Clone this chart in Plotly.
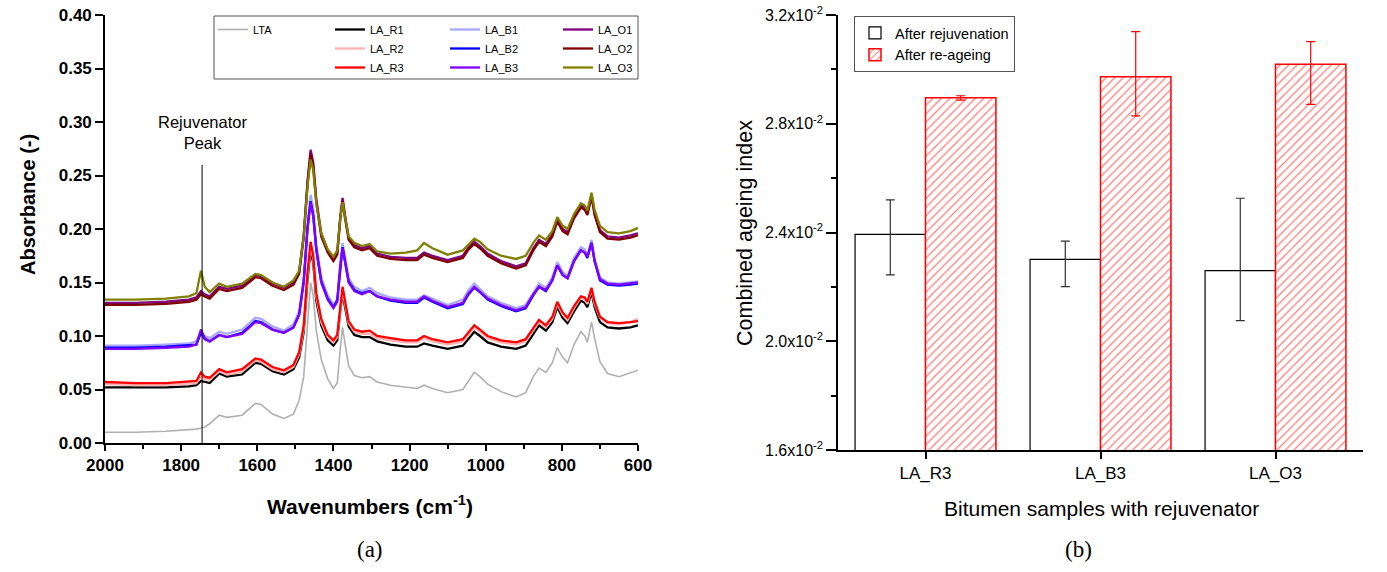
import plotly.graph_objects as go

# ---------------- (a) FTIR spectra ----------------
wavenumber = [2000, 1920, 1840, 1780, 1760, 1748, 1738, 1725, 1700, 1680, 1640, 1605, 1590, 1560, 1530,
              1505, 1490, 1478, 1468, 1460, 1453, 1445, 1432, 1415, 1400, 1390, 1382, 1376, 1370, 1360,
              1345, 1325, 1305, 1285, 1250, 1210, 1180, 1162, 1140, 1100, 1060, 1045, 1030, 1015, 995,
              960, 920, 895, 875, 860, 842, 825, 812, 798, 785, 768, 750, 740, 733, 722, 714, 700,
              680, 650, 620, 600]

LTA = [0.010, 0.010, 0.011, 0.012, 0.013, 0.014, 0.015, 0.018, 0.026, 0.024, 0.026, 0.037, 0.036, 0.027, 0.023,
       0.027, 0.040, 0.062, 0.112, 0.150, 0.138, 0.105, 0.078, 0.060, 0.051, 0.056, 0.088, 0.108, 0.094, 0.072,
       0.063, 0.061, 0.062, 0.057, 0.054, 0.052, 0.051, 0.054, 0.051, 0.047, 0.050, 0.058, 0.066, 0.062, 0.055,
       0.048, 0.043, 0.047, 0.062, 0.070, 0.066, 0.075, 0.089, 0.080, 0.075, 0.092, 0.104, 0.100, 0.094, 0.113, 0.098, 0.076,
       0.065, 0.062, 0.066, 0.068]

LA_R1 = [0.052, 0.052, 0.052, 0.053, 0.054, 0.058, 0.057, 0.056, 0.065, 0.062, 0.064, 0.075, 0.074, 0.067, 0.064,
         0.069, 0.080, 0.104, 0.153, 0.181, 0.168, 0.133, 0.110, 0.096, 0.091, 0.096, 0.124, 0.140, 0.128, 0.109,
         0.101, 0.099, 0.099, 0.095, 0.092, 0.090, 0.090, 0.093, 0.091, 0.088, 0.091, 0.098, 0.104, 0.100, 0.094,
         0.090, 0.088, 0.091, 0.102, 0.110, 0.105, 0.113, 0.127, 0.117, 0.112, 0.123, 0.133, 0.131, 0.127, 0.141, 0.127, 0.113,
         0.108, 0.107, 0.108, 0.110]

LA_R2 = [0.055, 0.054, 0.054, 0.055, 0.056, 0.062, 0.060, 0.059, 0.067, 0.064, 0.067, 0.077, 0.076, 0.069, 0.066,
         0.071, 0.083, 0.107, 0.157, 0.185, 0.172, 0.137, 0.113, 0.099, 0.094, 0.099, 0.127, 0.143, 0.131, 0.112,
         0.104, 0.102, 0.102, 0.098, 0.096, 0.094, 0.094, 0.098, 0.095, 0.092, 0.095, 0.102, 0.108, 0.104, 0.098,
         0.094, 0.092, 0.095, 0.106, 0.113, 0.108, 0.116, 0.130, 0.120, 0.115, 0.126, 0.136, 0.134, 0.130, 0.144, 0.130, 0.117,
         0.112, 0.111, 0.113, 0.116]

LA_R3 = [0.057, 0.056, 0.056, 0.057, 0.058, 0.066, 0.062, 0.061, 0.069, 0.066, 0.069, 0.079, 0.078, 0.071, 0.068,
         0.073, 0.085, 0.110, 0.160, 0.188, 0.175, 0.140, 0.116, 0.101, 0.096, 0.101, 0.130, 0.146, 0.134, 0.114,
         0.106, 0.104, 0.105, 0.100, 0.098, 0.096, 0.096, 0.100, 0.097, 0.094, 0.097, 0.104, 0.110, 0.106, 0.100,
         0.096, 0.094, 0.097, 0.108, 0.115, 0.110, 0.118, 0.132, 0.122, 0.117, 0.128, 0.137, 0.136, 0.132, 0.145, 0.132, 0.118,
         0.113, 0.112, 0.113, 0.114]

LA_B1 = [0.091, 0.091, 0.092, 0.093, 0.095, 0.104, 0.100, 0.098, 0.104, 0.102, 0.106, 0.117, 0.116, 0.109, 0.105,
         0.111, 0.123, 0.155, 0.206, 0.232, 0.219, 0.186, 0.155, 0.138, 0.129, 0.135, 0.170, 0.187, 0.175, 0.154,
         0.146, 0.142, 0.145, 0.140, 0.136, 0.134, 0.134, 0.138, 0.135, 0.129, 0.134, 0.143, 0.149, 0.144, 0.137,
         0.131, 0.126, 0.129, 0.141, 0.149, 0.145, 0.155, 0.169, 0.160, 0.156, 0.173, 0.183, 0.181, 0.176, 0.190, 0.172, 0.155,
         0.150, 0.149, 0.150, 0.151]

LA_B2 = [0.089, 0.089, 0.090, 0.091, 0.092, 0.103, 0.097, 0.095, 0.101, 0.099, 0.103, 0.114, 0.113, 0.106, 0.103,
         0.108, 0.120, 0.151, 0.201, 0.226, 0.213, 0.181, 0.151, 0.135, 0.127, 0.133, 0.166, 0.183, 0.171, 0.151,
         0.143, 0.140, 0.142, 0.137, 0.133, 0.131, 0.131, 0.136, 0.132, 0.126, 0.130, 0.139, 0.145, 0.141, 0.134,
         0.128, 0.123, 0.126, 0.138, 0.146, 0.142, 0.152, 0.166, 0.157, 0.154, 0.170, 0.180, 0.178, 0.173, 0.187, 0.170, 0.152,
         0.148, 0.147, 0.148, 0.149]

LA_B3 = [0.088, 0.088, 0.089, 0.090, 0.092, 0.106, 0.098, 0.095, 0.101, 0.099, 0.102, 0.113, 0.112, 0.106, 0.103,
         0.108, 0.120, 0.150, 0.200, 0.225, 0.212, 0.180, 0.150, 0.134, 0.126, 0.132, 0.165, 0.182, 0.170, 0.150,
         0.142, 0.139, 0.142, 0.137, 0.134, 0.132, 0.132, 0.137, 0.133, 0.127, 0.131, 0.140, 0.146, 0.141, 0.135,
         0.129, 0.124, 0.127, 0.139, 0.146, 0.143, 0.152, 0.166, 0.157, 0.154, 0.170, 0.180, 0.178, 0.174, 0.187, 0.170, 0.153,
         0.149, 0.148, 0.149, 0.150]

LA_O1 = [0.131, 0.131, 0.132, 0.134, 0.136, 0.142, 0.139, 0.137, 0.146, 0.144, 0.147, 0.157, 0.156, 0.149, 0.145,
         0.150, 0.160, 0.195, 0.245, 0.274, 0.262, 0.228, 0.196, 0.180, 0.172, 0.178, 0.212, 0.229, 0.214, 0.192,
         0.185, 0.182, 0.184, 0.177, 0.174, 0.173, 0.173, 0.178, 0.175, 0.171, 0.175, 0.183, 0.188, 0.184, 0.177,
         0.170, 0.165, 0.168, 0.182, 0.190, 0.186, 0.195, 0.209, 0.200, 0.197, 0.212, 0.222, 0.220, 0.215, 0.232, 0.215, 0.199,
         0.193, 0.192, 0.194, 0.196]

LA_O2 = [0.129, 0.129, 0.130, 0.132, 0.134, 0.139, 0.137, 0.135, 0.144, 0.142, 0.145, 0.155, 0.154, 0.147, 0.143,
         0.148, 0.158, 0.192, 0.242, 0.270, 0.258, 0.225, 0.193, 0.178, 0.170, 0.176, 0.209, 0.226, 0.211, 0.190,
         0.183, 0.180, 0.182, 0.175, 0.172, 0.171, 0.171, 0.176, 0.173, 0.169, 0.173, 0.181, 0.186, 0.182, 0.175,
         0.168, 0.163, 0.166, 0.180, 0.188, 0.184, 0.193, 0.207, 0.198, 0.195, 0.210, 0.220, 0.218, 0.213, 0.230, 0.213, 0.197,
         0.191, 0.190, 0.192, 0.194]

LA_O3 = [0.134, 0.134, 0.135, 0.137, 0.140, 0.161, 0.146, 0.141, 0.149, 0.146, 0.149, 0.158, 0.157, 0.150, 0.146,
         0.152, 0.161, 0.193, 0.240, 0.265, 0.255, 0.224, 0.196, 0.181, 0.174, 0.180, 0.210, 0.225, 0.212, 0.193,
         0.187, 0.184, 0.186, 0.179, 0.177, 0.178, 0.180, 0.187, 0.182, 0.176, 0.180, 0.186, 0.191, 0.188, 0.181,
         0.175, 0.172, 0.175, 0.187, 0.194, 0.190, 0.198, 0.211, 0.203, 0.200, 0.214, 0.224, 0.222, 0.217, 0.234, 0.218, 0.203,
         0.197, 0.196, 0.198, 0.201]

rejuvenator_peak = 1745

# ---------------- (b) Combined ageing index ----------------
samples = ["LA_R3", "LA_B3", "LA_O3"]
after_rejuvenation = [0.02393, 0.02301, 0.02260]
rejuv_err_plus = [0.00127, 0.00067, 0.00266]
rejuv_err_minus = [0.00149, 0.00100, 0.00184]
after_reageing = [0.02896, 0.02973, 0.03019]
reage_err_plus = [0.00007, 0.00166, 0.00083]
reage_err_minus = [0.00009, 0.00144, 0.00148]

y2_ticks = [0.016, 0.020, 0.024, 0.028, 0.032]
y2_ticktext = ["1.6x10<sup>-2</sup>", "2.0x10<sup>-2</sup>", "2.4x10<sup>-2</sup>",
               "2.8x10<sup>-2</sup>", "3.2x10<sup>-2</sup>"]

series = [
    ("LTA", LTA, "#b0b0b0", "legend", 1.6),
    ("LA_R1", LA_R1, "#000000", "legend2", 2.3),
    ("LA_R2", LA_R2, "#ffb3b3", "legend2", 2.3),
    ("LA_R3", LA_R3, "#ff0000", "legend2", 2.3),
    ("LA_B1", LA_B1, "#a8a8ff", "legend3", 2.3),
    ("LA_B2", LA_B2, "#0000ff", "legend3", 2.3),
    ("LA_B3", LA_B3, "#8000ff", "legend3", 2.3),
    ("LA_O1", LA_O1, "#800080", "legend4", 2.3),
    ("LA_O2", LA_O2, "#800000", "legend4", 2.3),
    ("LA_O3", LA_O3, "#808000", "legend4", 2.3),
]

W, H = 1387, 572
def px(x):
    return x / W
def py(y):
    return 1 - y / H

FONT = "Arial, Liberation Sans, sans-serif"

fig = go.Figure()
for name, vals, color, leg, lw in series:
    assert len(vals) == len(wavenumber), name
    fig.add_trace(go.Scatter(x=wavenumber, y=vals, mode="lines", name=name,
                             line=dict(color=color, width=lw), legend=leg,
                             xaxis="x", yaxis="y"))

fig.add_trace(go.Bar(x=samples, y=after_rejuvenation, name="After rejuvenation",
                     marker=dict(color="white", line=dict(color="black", width=1.2)),
                     error_y=dict(type="data", symmetric=False, array=rejuv_err_plus,
                                  arrayminus=rejuv_err_minus, color="#333333", thickness=1.2, width=4.5),
                     legend="legend5", xaxis="x2", yaxis="y2"))
fig.add_trace(go.Bar(x=samples, y=after_reageing, name="After re-ageing",
                     marker=dict(color="white", line=dict(color="red", width=1.5),
                                 pattern=dict(shape="/", fgcolor="red", bgcolor="white", size=6, solidity=0.22)),
                     error_y=dict(type="data", symmetric=False, array=reage_err_plus,
                                  arrayminus=reage_err_minus, color="red", thickness=1.2, width=4.5),
                     legend="legend5", xaxis="x2", yaxis="y2"))

axis_common = dict(showline=True, linecolor="black", linewidth=1.6, showgrid=False, zeroline=False,
                   ticks="outside", tickcolor="black", tickwidth=1.5, mirror=False, automargin=False)

legend_common = dict(bgcolor="rgba(0,0,0,0)", borderwidth=0, font=dict(family=FONT, size=11, color="black"),
                     xanchor="left", yanchor="top", tracegroupgap=0, orientation="v")

fig.update_layout(
    width=W, height=H, margin=dict(l=0, r=0, t=0, b=0, autoexpand=False),
    paper_bgcolor="white", plot_bgcolor="white",
    font=dict(family=FONT, color="black"),
    barmode="group", bargap=0.195, bargroupgap=0,
    xaxis=dict(domain=[px(105), px(638)], anchor="y", range=[2000, 600], dtick=200, tick0=0,
               ticklen=6, minor=dict(dtick=100, ticks="outside", ticklen=4, tickcolor="black", tickwidth=1.5),
               tickfont=dict(family=FONT, size=17, weight="bold"), **axis_common),
    yaxis=dict(domain=[py(443), py(15)], anchor="x", range=[0, 0.40], dtick=0.05, tickformat=".2f",
               ticklen=8, tickfont=dict(family=FONT, size=17, weight="bold"), **axis_common),
    xaxis2=dict(domain=[px(838), px(1363)], anchor="y2", type="category", range=[-0.5, 2.5],
                ticklen=7, tickfont=dict(family=FONT, size=17), **axis_common),
    yaxis2=dict(domain=[py(450), py(15)], anchor="x2", range=[0.016, 0.032], tickvals=y2_ticks,
                ticktext=y2_ticktext, ticklen=10,
                minor=dict(dtick=0.002, ticks="outside", ticklen=5, tickcolor="black", tickwidth=1.5),
                tickfont=dict(family=FONT, size=16), **axis_common),
    legend=dict(x=px(213), y=py(15), **legend_common),
    legend2=dict(x=px(330), y=py(15), **legend_common),
    legend3=dict(x=px(445), y=py(15), **legend_common),
    legend4=dict(x=px(558), y=py(15), **legend_common),
    legend5=dict(x=px(854), y=py(16), xanchor="left", yanchor="top", bgcolor="white",
                 bordercolor="#555555", borderwidth=1, tracegroupgap=0,
                 font=dict(family=FONT, size=14.5, color="black")),
    showlegend=True,
)

# legend frame of panel (a)
fig.add_shape(type="rect", xref="paper", yref="paper", x0=px(214), x1=px(638), y0=py(79), y1=py(16),
              line=dict(color="#555555", width=1), fillcolor="rgba(0,0,0,0)", layer="above")
# rejuvenator peak marker
fig.add_shape(type="line", xref="x", yref="y", x0=rejuvenator_peak, x1=rejuvenator_peak, y0=0, y1=0.260,
              line=dict(color="black", width=1))

def ann(text, x, y, size, family=FONT, angle=0, xref="paper", yref="paper"):
    return dict(text=text, xref=xref, yref=yref, x=x, y=y, xanchor="center", yanchor="middle",
                textangle=angle, showarrow=False, font=dict(family=family, size=size, color="black"))

SERIF = "Liberation Serif, Times New Roman, serif"
annotations = [
    ann("Rejuvenator<br>Peak", rejuvenator_peak, 0.290, 16.5, xref="x", yref="y"),
    ann("<b>Absorbance (-)</b>", px(28), py(205), 20, angle=-90),
    ann("<b>Wavenumbers (cm<sup>-1</sup>)</b>", px(370), py(505), 21),
    ann("Combined ageing index", px(745), py(233), 21.5, angle=-90),
    ann("Bitumen samples with rejuvenator", px(1101), py(508), 21),
    ann("(a)", px(370), py(549), 23, family=SERIF),
    ann("(b)", px(1078), py(549), 23, family=SERIF),
]
fig.update_layout(annotations=annotations)

fig.write_html("out.html")
